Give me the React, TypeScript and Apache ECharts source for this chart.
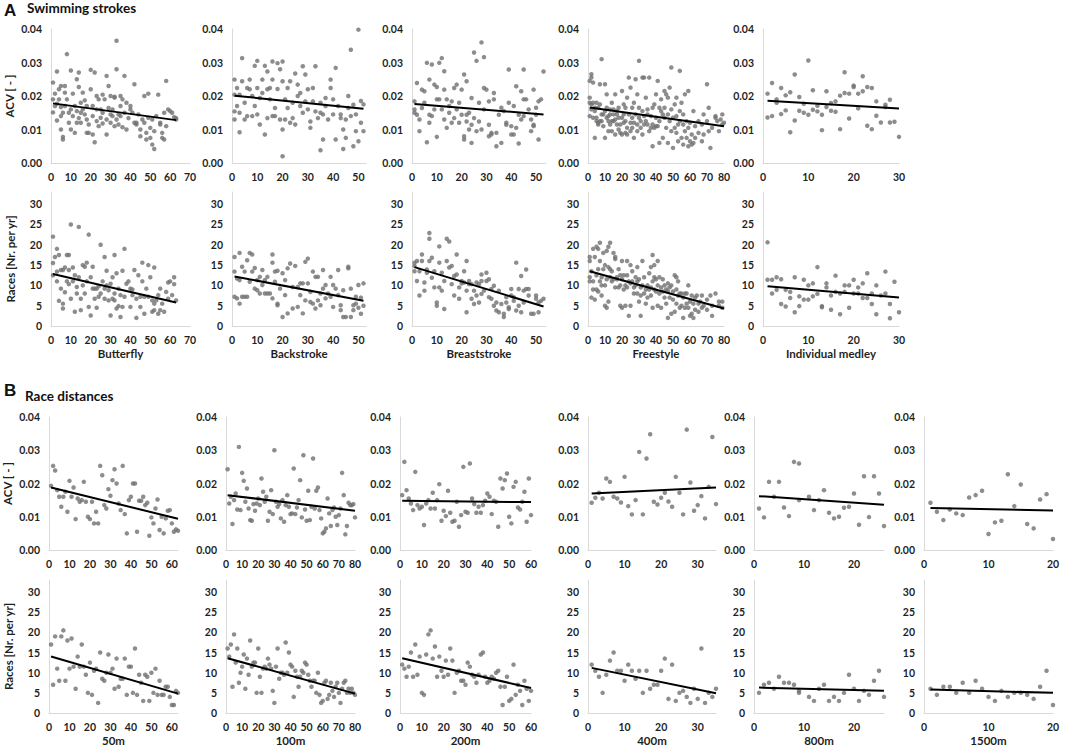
import React, { useEffect, useRef } from "react";
import * as echarts from "echarts";

// ---------- Section A: swimming strokes (rank, values...) ----------
const strokeNames = ["Butterfly", "Backstroke", "Breaststroke", "Freestyle", "Individual medley"];
const strokeXMax = [70, 53, 54, 80, 30];

const flyAcv = [
  [1, 0.024, 0.0151, 0.019], [2, 0.017, 0.0207], [3, 0.0273, 0.0177, 0.0127], [4, 0.022, 0.019],
  [5, 0.023, 0.014, 0.01, 0.0167], [6, 0.007, 0.015, 0.0078], [7, 0.023, 0.017, 0.021], [8, 0.0325, 0.019],
  [9, 0.012, 0.015], [10, 0.0276, 0.01, 0.016], [11, 0.0207, 0.014], [12, 0.009, 0.017],
  [13, 0.025, 0.012, 0.0155], [14, 0.027, 0.0227, 0.0134], [15, 0.018, 0.015, 0.012], [16, 0.016, 0.021],
  [17, 0.0145, 0.0187], [18, 0.009, 0.017, 0.013], [19, 0.0115, 0.009], [20, 0.0278, 0.022],
  [21, 0.0085, 0.017, 0.014], [22, 0.027, 0.0062], [23, 0.02, 0.0125, 0.016], [24, 0.019, 0.011],
  [25, 0.0135, 0.016], [26, 0.0204, 0.0118, 0.015], [27, 0.019], [28, 0.026, 0.013, 0.0085],
  [29, 0.0164, 0.023], [30, 0.0145, 0.012, 0.02], [31, 0.016, 0.014], [32, 0.0195, 0.011, 0.0198],
  [33, 0.013, 0.0365, 0.028], [34, 0.0145, 0.0115], [35, 0.02, 0.017, 0.014], [36, 0.0107, 0.019],
  [37, 0.026, 0.015], [38, 0.01, 0.018], [39, 0.0134], [40, 0.016, 0.017], [41, 0.015],
  [42, 0.012, 0.0235], [43, 0.012, 0.0115], [44, 0.0145], [45, 0.01, 0.008], [46, 0.013],
  [47, 0.012, 0.02], [48, 0.007, 0.009], [49, 0.0135, 0.0207], [50, 0.0075, 0.0105], [51, 0.0055, 0.013],
  [52, 0.0042, 0.0095], [53, 0.014], [54, 0.0204], [55, 0.012, 0.0115], [56, 0.009, 0.0075],
  [57, 0.007, 0.015], [58, 0.011, 0.0245], [59, 0.016], [60, 0.0155], [61, 0.015], [62, 0.0137],
  [63, 0.013, 0.0134],
];
const flyRaces = [
  [1, 22, 15.5, 12.5], [2, 17], [3, 13.4, 19, 11], [4, 17.5, 6.2], [5, 13.8, 9.2], [6, 5.5, 13.8, 4.3],
  [7, 14.4, 8.3], [8, 17.5, 11], [9, 10.3, 17.5, 13.8], [10, 25, 6.7], [11, 14.4, 11], [12, 3.5, 12.5],
  [13, 8, 9.6], [14, 24.4, 12], [15, 6.7, 3.9], [16, 15, 10], [17, 8, 14.6], [18, 11, 15.6],
  [19, 4.7, 22.5], [20, 2.6, 12], [21, 9.2, 14.6], [22, 6.7, 9.2], [23, 4.5, 9.2], [24, 7.2, 9.8],
  [25, 20, 8], [26, 11], [27, 17, 9.2, 6.7], [28, 13.6, 10], [29, 6.3, 8.8], [30, 2.6, 10.4],
  [31, 6.7, 12], [32, 8, 6.3, 17.5], [33, 13, 4.3], [34, 9.2, 4.9], [35, 2.2, 7.6], [36, 4.7, 13.6],
  [37, 19, 7.2], [38, 10.4], [39, 11], [40, 4.7, 9.2], [41, 7.6, 9], [42, 13.8], [43, 2, 6.7],
  [44, 12.5], [45, 4.7, 7.2], [46, 15.6, 11], [47, 7.2, 3], [48, 9.2], [49, 15, 7.2], [50, 12],
  [51, 3.5, 6.3], [52, 5.5, 3.9, 14.4], [53, 6.3], [54, 7.6, 3], [55, 3.9, 9.2], [56, 5.5], [57, 3.5],
  [58, 8.4], [59, 6.7, 10.7], [60, 11], [61, 7.6], [62, 12, 10.3], [63, 6.3],
];
const backAcv = [
  [1, 0.0249, 0.0154, 0.013, 0.0204], [2, 0.017, 0.0224], [3, 0.0092, 0.0204, 0.015], [4, 0.0244, 0.0313],
  [5, 0.018, 0.013], [6, 0.0224, 0.014], [7, 0.022, 0.0249], [8, 0.02, 0.014], [9, 0.017, 0.029],
  [10, 0.0145, 0.0305, 0.0224], [11, 0.0115, 0.0194], [12, 0.0249, 0.0209], [13, 0.029, 0.0085],
  [14, 0.0134, 0.0273, 0.022], [15, 0.019, 0.0224], [16, 0.014, 0.0303, 0.0249], [17, 0.0164, 0.014],
  [18, 0.0298, 0.0221], [19, 0.013, 0.028], [20, 0.002, 0.01, 0.0244, 0.0303], [21, 0.019, 0.013],
  [22, 0.0224, 0.0164], [23, 0.012, 0.0244], [24, 0.018, 0.0134], [25, 0.0267, 0.0115], [26, 0.02, 0.0234],
  [27, 0.017, 0.0209], [28, 0.0289, 0.015], [29, 0.0184, 0.0264], [30, 0.016, 0.022], [31, 0.0124, 0.0105],
  [32, 0.0184, 0.0224], [33, 0.0154, 0.0289], [34, 0.0134], [35, 0.0038, 0.018, 0.015], [36, 0.007, 0.0145],
  [37, 0.0194, 0.017], [38, 0.013], [39, 0.0224, 0.0249], [40, 0.0145, 0.019], [41, 0.0284, 0.007],
  [42, 0.017], [43, 0.0134, 0.0145], [44, 0.0042, 0.01], [45, 0.013, 0.0075], [46, 0.02, 0.0164],
  [47, 0.0338, 0.014], [48, 0.0174, 0.005], [49, 0.0145, 0.0095], [50, 0.0398, 0.0065], [51, 0.0185, 0.012],
  [52, 0.0095, 0.0175],
];
const backRaces = [
  [1, 17, 13.4, 7.2], [2, 6.8, 11.7], [3, 18, 5.5, 11.3], [4, 14.6, 7.2], [5, 13.4, 7.2], [6, 7.2, 16.2],
  [7, 18, 10.9], [8, 17.6, 13.4], [9, 9.2, 14.3], [10, 8.8, 11.3], [11, 8, 12.1], [12, 13.8, 10.1],
  [13, 8, 11.3], [14, 8, 12.1], [15, 8], [16, 17.6, 15.6, 6.8], [17, 13.4, 10.9], [18, 5.5, 13.6, 5.1],
  [19, 9.2], [20, 2.2, 13], [21, 11.3, 7.6], [22, 3.1, 14.2], [23, 15.4], [24, 4.3, 9.6], [25, 14.8],
  [26, 4.7, 9.6], [27, 7.6, 10.5], [28, 3.1, 10.5], [29, 15.8, 6.3], [30, 10.5, 16.6], [31, 5.9, 8.4],
  [32, 13.4, 5.5], [33, 12.1, 4.3], [34, 6.3, 12.1], [35, 8, 5.1], [36, 13.8, 9.2], [37, 6.8, 10.1],
  [38, 8], [39, 12.1, 7.2], [40, 10.1, 4.7], [41, 9.2], [42, 7.6, 13.8], [43, 3.9, 5.1], [44, 2.2, 8.8],
  [45, 2.2], [46, 14.6, 14.2], [47, 9.2, 2.2], [48, 5.1, 3.9], [49, 7.2, 5.5], [50, 10.1, 4.5],
  [51, 3, 7], [52, 5, 10.5],
];
const breastAcv = [
  [1, 0.016, 0.015, 0.0184], [2, 0.0144, 0.0239], [3, 0.0095, 0.013], [4, 0.0219, 0.0164], [5, 0.0214, 0.018],
  [6, 0.0299, 0.0062], [7, 0.0144, 0.012, 0.0249], [8, 0.0294, 0.014], [9, 0.016, 0.0234],
  [10, 0.019, 0.0078, 0.0227], [11, 0.019, 0.0299], [12, 0.016, 0.0313], [13, 0.0274, 0.0219, 0.013],
  [14, 0.019, 0.0105], [15, 0.017, 0.015], [16, 0.012, 0.0184], [17, 0.0134, 0.0224], [18, 0.016, 0.0234],
  [19, 0.012, 0.018], [20, 0.0219, 0.0144], [21, 0.008, 0.0264, 0.007], [22, 0.0244, 0.0124, 0.0144],
  [23, 0.01, 0.015], [24, 0.006, 0.0194, 0.0114], [25, 0.033, 0.0134], [26, 0.0305, 0.0095], [27, 0.018, 0.0124],
  [28, 0.036, 0.01], [29, 0.0224, 0.016, 0.0316], [30, 0.0219], [31, 0.008, 0.0184, 0.0114], [32, 0.0085, 0.009],
  [33, 0.0209, 0.019], [34, 0.009, 0.005], [35, 0.0144], [36, 0.0165, 0.006], [37, 0.0155], [38, 0.012, 0.0114],
  [39, 0.018, 0.0279], [40, 0.0085, 0.011], [41, 0.0085, 0.017], [42, 0.0105, 0.0229], [43, 0.0144, 0.0058],
  [44, 0.013, 0.0214], [45, 0.019, 0.014, 0.0279], [46, 0.019], [47, 0.016], [48, 0.0095, 0.013],
  [49, 0.0114, 0.011, 0.0219], [50, 0.0165, 0.0144], [51, 0.0184, 0.007], [52, 0.019], [53, 0.0273],
];
const breastRaces = [
  [1, 14.8, 13.5, 15.6], [2, 11.1, 16], [3, 7.5, 13.5], [4, 16, 17.6], [5, 10.7, 8.7], [6, 13.9, 13.1],
  [7, 22.9, 21.5, 16], [8, 16.8, 11.9], [9, 9.5, 13.5], [10, 5.8, 5], [11, 19.6, 9.5, 15.6], [12, 13.1, 8.7],
  [13, 4.2, 11.1], [14, 16, 21.5], [15, 20.8, 14.4], [16, 10.3, 14.8], [17, 12.3, 7.5], [18, 17.6, 12.7],
  [19, 6.7, 9.5], [20, 11.1, 10.5], [21, 10.7, 13.5], [22, 8.7, 16, 3.4], [23, 11.1, 10.3], [24, 6.7, 10.3],
  [25, 5.4, 8.7], [26, 10.7, 7.5], [27, 5.8, 10.3], [28, 7.9, 11.1, 12.7], [29, 8.7], [30, 11.1, 13.1],
  [31, 11.5, 7.1], [32, 6.7, 9.1], [33, 5, 9.9], [34, 5.8, 3.8], [35, 3.4, 8.7], [36, 5.4], [37, 3, 2.2],
  [38, 5.8, 7.1], [39, 4.2, 4.6], [40, 9.1, 7.5], [41, 6.2, 7.1], [42, 3.8, 15.6], [43, 9.1, 5],
  [44, 12.3, 3.4], [45, 8.7, 5.8], [46, 9.1, 13.9], [47, 9.1, 7.5], [48, 3], [49, 3], [50, 7.5, 6.7],
  [51, 3.4, 5.8], [52, 6.2], [53, 6.7],
];
const freeAcv = [
  [1, 0.0245, 0.0195, 0.018, 0.014], [2, 0.0265, 0.0255, 0.0175, 0.016], [3, 0.024, 0.018, 0.0135],
  [4, 0.0075, 0.0165, 0.0155], [5, 0.018, 0.0125, 0.0135], [6, 0.0115, 0.0165, 0.012], [7, 0.0235, 0.0175, 0.0125],
  [8, 0.031, 0.0125, 0.0145], [9, 0.0145, 0.011], [10, 0.0235, 0.0155, 0.0075], [11, 0.0205, 0.0135, 0.0165],
  [12, 0.0125, 0.0095, 0.014], [13, 0.016, 0.0145, 0.0115], [14, 0.018, 0.0095, 0.0125], [15, 0.0145, 0.0125, 0.016],
  [16, 0.0205, 0.0085, 0.013], [17, 0.0155, 0.0145, 0.0115], [18, 0.0135, 0.01, 0.0165], [19, 0.009, 0.0115],
  [20, 0.0135, 0.0215, 0.0085], [21, 0.0175, 0.012, 0.0145], [22, 0.009, 0.0125, 0.0165], [23, 0.0195, 0.0085, 0.0105],
  [24, 0.0255, 0.0145], [25, 0.012, 0.0225, 0.0095], [26, 0.0105, 0.0165, 0.0135], [27, 0.0075, 0.018, 0.012],
  [28, 0.025, 0.0145], [29, 0.0115, 0.0205, 0.0095], [30, 0.0305, 0.0135, 0.0165], [31, 0.0125, 0.0105],
  [32, 0.0255, 0.0155, 0.0085], [33, 0.0255, 0.0115, 0.014], [34, 0.0195, 0.0125], [35, 0.016, 0.0115, 0.0145],
  [36, 0.0255, 0.0095], [37, 0.0105, 0.014], [38, 0.0115, 0.005, 0.0165], [39, 0.0175, 0.0105],
  [40, 0.0205, 0.011, 0.0135], [41, 0.011, 0.0245], [42, 0.0165, 0.0125, 0.006], [43, 0.0155, 0.019],
  [44, 0.0075, 0.0145], [45, 0.0215, 0.0135, 0.0165], [46, 0.0205, 0.0105], [47, 0.0195, 0.0145, 0.006],
  [48, 0.0225, 0.0125], [49, 0.0285, 0.0095, 0.016], [50, 0.0045, 0.0135], [51, 0.0105, 0.0175],
  [52, 0.0195, 0.009, 0.014], [53, 0.0115, 0.0065], [54, 0.0275, 0.0125, 0.0155], [55, 0.0075, 0.018],
  [56, 0.0055, 0.0115, 0.0145], [57, 0.0205, 0.0095], [58, 0.0125, 0.0075], [59, 0.0215, 0.005, 0.0105],
  [60, 0.0065, 0.012], [61, 0.0055, 0.0085], [62, 0.0155, 0.006], [63, 0.011, 0.0075], [65, 0.0125, 0.009],
  [67, 0.0065, 0.0115], [68, 0.0145, 0.0085], [70, 0.0235, 0.0125], [71, 0.0165, 0.0095], [72, 0.0045],
  [73, 0.0105], [75, 0.014, 0.0135], [76, 0.0125], [77, 0.0095], [78, 0.013], [79, 0.0115, 0.0145], [80, 0.012],
];
const freeRaces = [
  [1, 16, 17, 12, 11], [2, 13.5, 7], [3, 19, 11, 9], [4, 17, 6.5], [5, 19.5, 12.5, 9], [6, 19, 14, 8.5],
  [7, 20.5, 16, 11], [8, 10, 7.5, 12], [9, 18, 14], [10, 15, 5, 10], [11, 18.5, 4.5, 11.5], [12, 14.5, 19.5, 6],
  [13, 20.5, 14, 12], [14, 13.5, 11], [15, 18, 11.5], [16, 17, 9.5, 16.5], [17, 12, 11.5], [18, 14, 9.5],
  [19, 12.5, 5, 10], [20, 16, 11.5, 4.5], [21, 12.5, 9], [22, 10, 5], [23, 16, 12.5, 9.5], [24, 11, 2.5],
  [25, 15, 10.5, 5], [26, 13.5, 11], [27, 9.5, 8], [28, 12, 10], [29, 14.5, 8, 11], [30, 6, 11.5],
  [31, 2.5, 9.5, 7.5], [32, 16, 10], [33, 8, 12], [34, 9, 5.5], [35, 10, 7], [36, 13, 9], [37, 14.5, 7.5, 9.5],
  [38, 17.5, 4.5, 11], [39, 15, 9, 12], [40, 11.5, 8.5], [41, 5, 10, 16], [42, 12, 8], [43, 9.5, 4.5],
  [44, 11.5, 8.5], [45, 10, 7], [46, 9, 5.5], [47, 10.5, 2, 8.5], [48, 9.5, 7], [49, 10, 3], [50, 8.5, 6.5],
  [51, 12.5, 3.5], [52, 12, 9, 5.5], [53, 11, 7.5], [54, 4.5, 8], [55, 8, 5], [56, 2, 7], [57, 8, 4.5],
  [58, 5.5, 8], [59, 10, 4.5], [60, 2.5, 6], [61, 3, 7.5], [62, 5.5, 2], [63, 7, 4], [64, 7.5], [65, 3.5, 5.5],
  [66, 6], [67, 7.5, 4.5], [68, 5], [70, 6.5, 4], [72, 7.5], [73, 2.5, 5], [75, 8], [77, 6, 5], [79, 4.5, 6],
];
const imAcv = [
  [1, 0.0207, 0.0136], [2, 0.0239, 0.014], [3, 0.019, 0.018], [4, 0.0224, 0.0146], [5, 0.0202, 0.0157],
  [6, 0.0211, 0.0092], [7, 0.0264, 0.0127], [8, 0.0197, 0.0156], [9, 0.0177, 0.015], [10, 0.0306, 0.0144],
  [11, 0.0217, 0.0159], [12, 0.0171, 0.0154], [13, 0.0144, 0.0098], [14, 0.0214, 0.0167], [15, 0.0179, 0.0156],
  [16, 0.0184, 0.0153], [17, 0.0201, 0.0101], [18, 0.0271, 0.0209], [19, 0.0207, 0.0133], [20, 0.0231, 0.0227],
  [21, 0.0207, 0.0163], [22, 0.0259, 0.0214], [23, 0.0227, 0.0111], [24, 0.0224, 0.0101], [25, 0.0184, 0.0141],
  [26, 0.0121], [27, 0.0174, 0.0167], [28, 0.0189, 0.0121], [29, 0.0123], [30, 0.0078],
];
const imRaces = [
  [1, 20.6, 11.4], [2, 11.4, 8], [3, 12, 8.9], [4, 11.5, 5.4], [5, 8.9, 4.8], [6, 8.4, 6.9], [7, 12, 3.4],
  [8, 7.3, 4.9], [9, 11.4, 6.5], [10, 10, 6.5], [11, 10.5, 7.3], [12, 14.5, 7.9], [13, 4.9, 4.6], [14, 10.5, 9.5],
  [15, 7.5, 4], [16, 12.4, 8.4], [17, 8, 2.9], [18, 10, 8.4], [19, 10, 4.5], [20, 11.4, 8], [21, 9.5, 8],
  [22, 10.5, 6.9], [23, 13, 6.9], [24, 8, 5.4], [25, 10, 2.9], [26, 7.5], [27, 13.4, 8], [28, 5.4, 1.9],
  [29, 10.9], [30, 3.4],
];
const strokeAcvTrends = [
  [[1, 0.0178], [63, 0.0128]], [[1, 0.0201], [52, 0.0162]], [[1, 0.0176], [53, 0.0145]],
  [[1, 0.0166], [80, 0.011]], [[1, 0.0186], [30, 0.0163]],
];
const strokeRacesTrends = [
  [[1, 12.8], [63, 5.8]], [[1, 12.2], [52, 6.2]], [[1, 14.5], [53, 4.8]],
  [[1, 13.5], [80, 4.3]], [[1, 9.8], [30, 7.0]],
];

// ---------- Section B: race distances (one value per rank) ----------
const distanceNames = ["50m", "100m", "200m", "400m", "800m", "1500m"];
const distanceXMax = [63, 80, 60, 35, 26, 20];
const ranks800 = [1, 2, 3, 4, 5, 6, 7, 8, 9, 9, 11, 12, 13, 14, 15, 16, 17, 18, 19, 20, 21, 22, 23, 24, 25, 26];

const acv50 = [0.0193, 0.0253, 0.0239, 0.018, 0.016, 0.013, 0.016, 0.0175, 0.0115, 0.0208, 0.016, 0.0188, 0.0093,
  0.0155, 0.0145, 0.015, 0.0205, 0.0145, 0.01, 0.0093, 0.0145, 0.008, 0.0115, 0.008, 0.0253, 0.0225, 0.0135, 0.0125,
  0.0183, 0.0163, 0.021, 0.0243, 0.02, 0.014, 0.012, 0.0253, 0.0108, 0.005, 0.015, 0.016, 0.02, 0.02, 0.0055, 0.0148,
  0.0148, 0.016, 0.0135, 0.0142, 0.0043, 0.0098, 0.008, 0.0125, 0.0152, 0.006, 0.01, 0.005, 0.0095, 0.0118, 0.012,
  0.008, 0.0055, 0.0062, 0.0058];
const races50 = [17, 7, 19, 11, 8, 19, 20.5, 8, 18, 11, 18.5, 11.5, 6, 14, 11.5, 17, 11.5, 9.5, 5, 12.5, 4.5, 10.5,
  11, 2.5, 15, 8.5, 8, 10, 14.5, 10, 11, 6, 13.5, 6.5, 8.5, 8.5, 13.5, 4.5, 11.5, 11.5, 5, 16, 4.5, 9.5, 7.5, 3, 9.5,
  9, 3, 10, 5, 11, 4.5, 8, 4.5, 4.5, 6.5, 6.5, 4, 2, 2, 5.5, 5];
const acv100 = [0.0243, 0.014, 0.016, 0.0078, 0.015, 0.017, 0.0122, 0.031, 0.012, 0.0232, 0.0208, 0.0145, 0.0185,
  0.0125, 0.009, 0.0088, 0.0138, 0.0118, 0.014, 0.0155, 0.0135, 0.0215, 0.0175, 0.0145, 0.016, 0.0088, 0.0115, 0.018,
  0.0108, 0.03, 0.0145, 0.013, 0.0138, 0.0095, 0.015, 0.0085, 0.0135, 0.0165, 0.013, 0.0108, 0.011, 0.0245, 0.0108,
  0.0128, 0.015, 0.021, 0.0098, 0.0285, 0.0122, 0.0088, 0.0178, 0.009, 0.013, 0.0275, 0.0125, 0.0178, 0.0188, 0.012,
  0.0095, 0.005, 0.0055, 0.0065, 0.0155, 0.011, 0.0072, 0.012, 0.0128, 0.01, 0.0075, 0.0105, 0.0125, 0.0232, 0.0165,
  0.0047, 0.0072, 0.0142, 0.0135, 0.0135, 0.0138, 0.0098];
const races100 = [16, 14, 17, 6.5, 19.5, 12.5, 16, 7.5, 10, 11.5, 14.5, 6, 13.5, 9.5, 18, 11.5, 12.5, 12.5, 5, 16, 9,
  5, 11, 11.5, 11, 13.5, 12, 11, 5.5, 2.5, 11.5, 16, 8.5, 10, 10, 9.5, 17.5, 10, 15, 12, 11.5, 4, 10.5, 9, 6.5, 9,
  10.5, 10, 12.5, 12, 9.5, 8, 6.5, 8, 8, 5, 10, 4.5, 2.5, 3, 7.5, 8, 3.5, 4.5, 7.5, 5.5, 4, 6.5, 7.5, 5, 2.5, 6, 7.5,
  8, 5, 6, 5, 6, 5, 4.5];
const acv200 = [0.0165, 0.0265, 0.018, 0.0155, 0.014, 0.012, 0.0235, 0.0135, 0.0125, 0.013, 0.0075, 0.014, 0.015,
  0.0125, 0.0172, 0.0125, 0.015, 0.0198, 0.0088, 0.0118, 0.0102, 0.0178, 0.0112, 0.0085, 0.0088, 0.0145, 0.007, 0.0105,
  0.025, 0.0115, 0.0112, 0.026, 0.0155, 0.0138, 0.0112, 0.013, 0.0112, 0.0135, 0.0148, 0.017, 0.016, 0.0108, 0.0148,
  0.0145, 0.007, 0.0215, 0.0185, 0.021, 0.023, 0.01, 0.008, 0.019, 0.0205, 0.0128, 0.0122, 0.0145, 0.0175, 0.0085,
  0.0215, 0.0105];
const races200 = [12, 11, 9, 11.5, 15, 9, 17, 9.5, 14, 5, 4.5, 14.5, 19.5, 20.5, 13.5, 16.5, 9, 14, 10.5, 9, 13, 9.5,
  16, 13, 5, 10, 10.5, 8, 8, 7, 12.5, 11.5, 9.5, 9, 7.5, 9.5, 14.5, 15, 9, 7.5, 8, 9, 8.5, 10, 10.5, 6.5, 2, 6.5, 9,
  3, 3.5, 12, 4.5, 7, 5.5, 2, 8, 6, 3, 5.5];
const acv400 = [0.0142, 0.0157, 0.0172, 0.0155, 0.0215, 0.0205, 0.016, 0.0155, 0.0143, 0.022, 0.0132, 0.0107, 0.015,
  0.0295, 0.0107, 0.0275, 0.0348, 0.0145, 0.0137, 0.0157, 0.0172, 0.0146, 0.013, 0.022, 0.0172, 0.0107, 0.0362,
  0.0203, 0.0118, 0.0135, 0.0162, 0.0095, 0.019, 0.034, 0.0138];
const races400 = [12, 10.5, 9, 5, 9.5, 13, 15, 10.5, 10.5, 8, 12, 10.5, 8.5, 10.5, 5, 10.5, 6, 7, 7, 10.5, 13.5, 3.5,
  12, 3, 5, 5.5, 4, 2.5, 6, 3.5, 16, 2.5, 5, 4, 6];
const acv800 = [0.0125, 0.0098, 0.0205, 0.016, 0.0205, 0.0128, 0.0102, 0.0265, 0.026, 0.015, 0.016, 0.012, 0.015,
  0.018, 0.0112, 0.0095, 0.01, 0.0127, 0.013, 0.017, 0.0076, 0.0222, 0.0099, 0.0222, 0.017, 0.0072];
const races800 = [5, 7, 7.5, 6, 9, 7.5, 7.5, 7, 5.5, 5, 4, 3, 6, 7, 3, 4, 3, 5, 9.5, 6, 3, 5.5, 4.5, 8, 10.5, 4];
const acv1500 = [0.0142, 0.0115, 0.009, 0.0122, 0.011, 0.0105, 0.0158, 0.0165, 0.0178, 0.0048, 0.0083, 0.0088,
  0.0228, 0.0132, 0.0197, 0.0078, 0.0065, 0.0152, 0.0168, 0.0033];
const races1500 = [6, 4.5, 6.5, 6.5, 5, 7.5, 5, 8, 6, 4, 3, 5.5, 4, 5, 5, 4.5, 3.5, 6.5, 10.5, 2];
const distanceAcvTrends = [
  [[1, 0.0188], [63, 0.0094]], [[1, 0.0165], [80, 0.0118]], [[1, 0.0148], [60, 0.0144]],
  [[1, 0.017], [35, 0.0188]], [[1, 0.0162], [26, 0.0136]], [[1, 0.0126], [20, 0.0119]],
];
const distanceRacesTrends = [
  [[1, 14], [63, 4.8]], [[1, 13.6], [80, 4.8]], [[1, 13.6], [60, 6.2]],
  [[1, 11.2], [35, 4.9]], [[1, 6.3], [26, 5.5]], [[1, 5.8], [20, 5.0]],
];

// ---------- helpers ----------
const flatGroups = (g: number[][]) => g.flatMap(([r, ...ys]) => ys.map((y) => [r, y]));
const byRank = (ys: number[], rk?: number[]) => ys.map((y, i) => [rk ? rk[i] : i + 1, y]);

const FONT = "Lato, 'Open Sans', sans-serif";
const TXT = "#1f1f1f";
const DOT = "#707070";
const AXIS = "#d9d9d9";

type Panel = {
  left: number; top: number; width: number; height: number;
  xMax: number; kind: "acv" | "races"; xName?: string; yName?: string;
  pts: number[][]; trend: number[][];
};

const App = () => {
  const ref = useRef<HTMLDivElement>(null);
  useEffect(() => {
    if (!ref.current) return;
    const chart = echarts.init(ref.current, null, { renderer: "svg" });

    const strokeAcvData = [flyAcv, backAcv, breastAcv, freeAcv, imAcv].map(flatGroups);
    const strokeRacesData = [flyRaces, backRaces, breastRaces, freeRaces, imRaces].map(flatGroups);
    const distAcvData = [
      byRank(acv50), byRank(acv100), byRank(acv200), byRank(acv400), byRank(acv800, ranks800), byRank(acv1500),
    ];
    const distRacesData = [
      byRank(races50), byRank(races100), byRank(races200), byRank(races400), byRank(races800, ranks800), byRank(races1500),
    ];

    const aLefts = [51, 232, 412, 588, 763];
    const aWidths = [139, 134, 134, 136, 136];
    const bLefts = [49, 226, 400, 588, 754, 924];
    const bWidths = [129, 129, 131, 128, 130, 129];

    const panels: Panel[] = [];
    for (let i = 0; i < 5; i++) {
      panels.push({ left: aLefts[i], top: 29, width: aWidths[i], height: 134, xMax: strokeXMax[i], kind: "acv",
        yName: i === 0 ? "ACV [ - ]" : undefined, pts: strokeAcvData[i], trend: strokeAcvTrends[i] });
      panels.push({ left: aLefts[i], top: 192, width: aWidths[i], height: 134, xMax: strokeXMax[i], kind: "races",
        xName: strokeNames[i], yName: i === 0 ? "Races [Nr. per yr]" : undefined, pts: strokeRacesData[i], trend: strokeRacesTrends[i] });
    }
    for (let i = 0; i < 6; i++) {
      panels.push({ left: bLefts[i], top: 417, width: bWidths[i], height: 133, xMax: distanceXMax[i], kind: "acv",
        yName: i === 0 ? "ACV [ - ]" : undefined, pts: distAcvData[i], trend: distanceAcvTrends[i] });
      panels.push({ left: bLefts[i], top: 580, width: bWidths[i], height: 134, xMax: distanceXMax[i], kind: "races",
        xName: distanceNames[i], yName: i === 0 ? "Races [Nr. per yr]" : undefined, pts: distRacesData[i], trend: distanceRacesTrends[i] });
    }

    const labelStyle = { color: TXT, fontWeight: "bold", fontSize: 10.5, fontFamily: FONT };
    const nameStyle = { color: TXT, fontWeight: "bold", fontSize: 11.5, fontFamily: FONT };

    const grid: any[] = [];
    const xAxis: any[] = [];
    const yAxis: any[] = [];
    const series: any[] = [];
    panels.forEach((p, i) => {
      grid.push({ left: p.left, top: p.top, width: p.width, height: p.height, containLabel: false });
      xAxis.push({
        type: "value", gridIndex: i, min: 0, max: p.xMax, interval: 10,
        axisLine: { show: true, onZero: false, lineStyle: { color: AXIS, width: 1 } },
        axisTick: { show: false }, splitLine: { show: false },
        axisLabel: { ...labelStyle, margin: 8, formatter: (v: number) => (v % 10 === 0 ? String(v) : "") },
        name: p.xName, nameLocation: "middle", nameGap: 21, nameTextStyle: nameStyle,
      });
      const isAcv = p.kind === "acv";
      yAxis.push({
        type: "value", gridIndex: i, min: 0, max: isAcv ? 0.04 : 33, interval: isAcv ? 0.01 : 5,
        axisLine: { show: true, lineStyle: { color: AXIS, width: 1 } },
        axisTick: { show: false }, splitLine: { show: false },
        axisLabel: {
          ...labelStyle, margin: 9,
          formatter: (v: number) => (isAcv ? v.toFixed(2) : v % 5 === 0 ? String(v) : ""),
        },
        name: p.yName, nameLocation: "middle", nameGap: isAcv ? 36 : 35, nameTextStyle: nameStyle,
      });
      series.push({
        type: "scatter", xAxisIndex: i, yAxisIndex: i, data: p.pts, symbolSize: 4.5,
        itemStyle: { color: DOT }, silent: true,
      });
      series.push({
        type: "line", xAxisIndex: i, yAxisIndex: i, data: p.trend, symbol: "none",
        lineStyle: { color: "#000", width: 2 }, silent: true, z: 5,
      });
    });

    chart.setOption({
      animation: false,
      backgroundColor: "#fff",
      grid, xAxis, yAxis, series,
      graphic: [
        { type: "text", left: 4, top: 2, style: { text: "A", font: "bold 17px 'Liberation Sans', Arial, sans-serif", fill: "#111" } },
        { type: "text", left: 27, top: 1, style: { text: "Swimming strokes", font: "bold 13.5px Lato, sans-serif", fill: "#111" } },
        { type: "text", left: 4, top: 382, style: { text: "B", font: "bold 17px 'Liberation Sans', Arial, sans-serif", fill: "#111" } },
        { type: "text", left: 25, top: 389, style: { text: "Race distances", font: "bold 13.5px Lato, sans-serif", fill: "#111" } },
      ],
    });
    return () => chart.dispose();
  }, []);
  return <div ref={ref} style={{ position: "absolute", left: 0, top: 0, width: 1084, height: 747 }} />;
};

export default App;
